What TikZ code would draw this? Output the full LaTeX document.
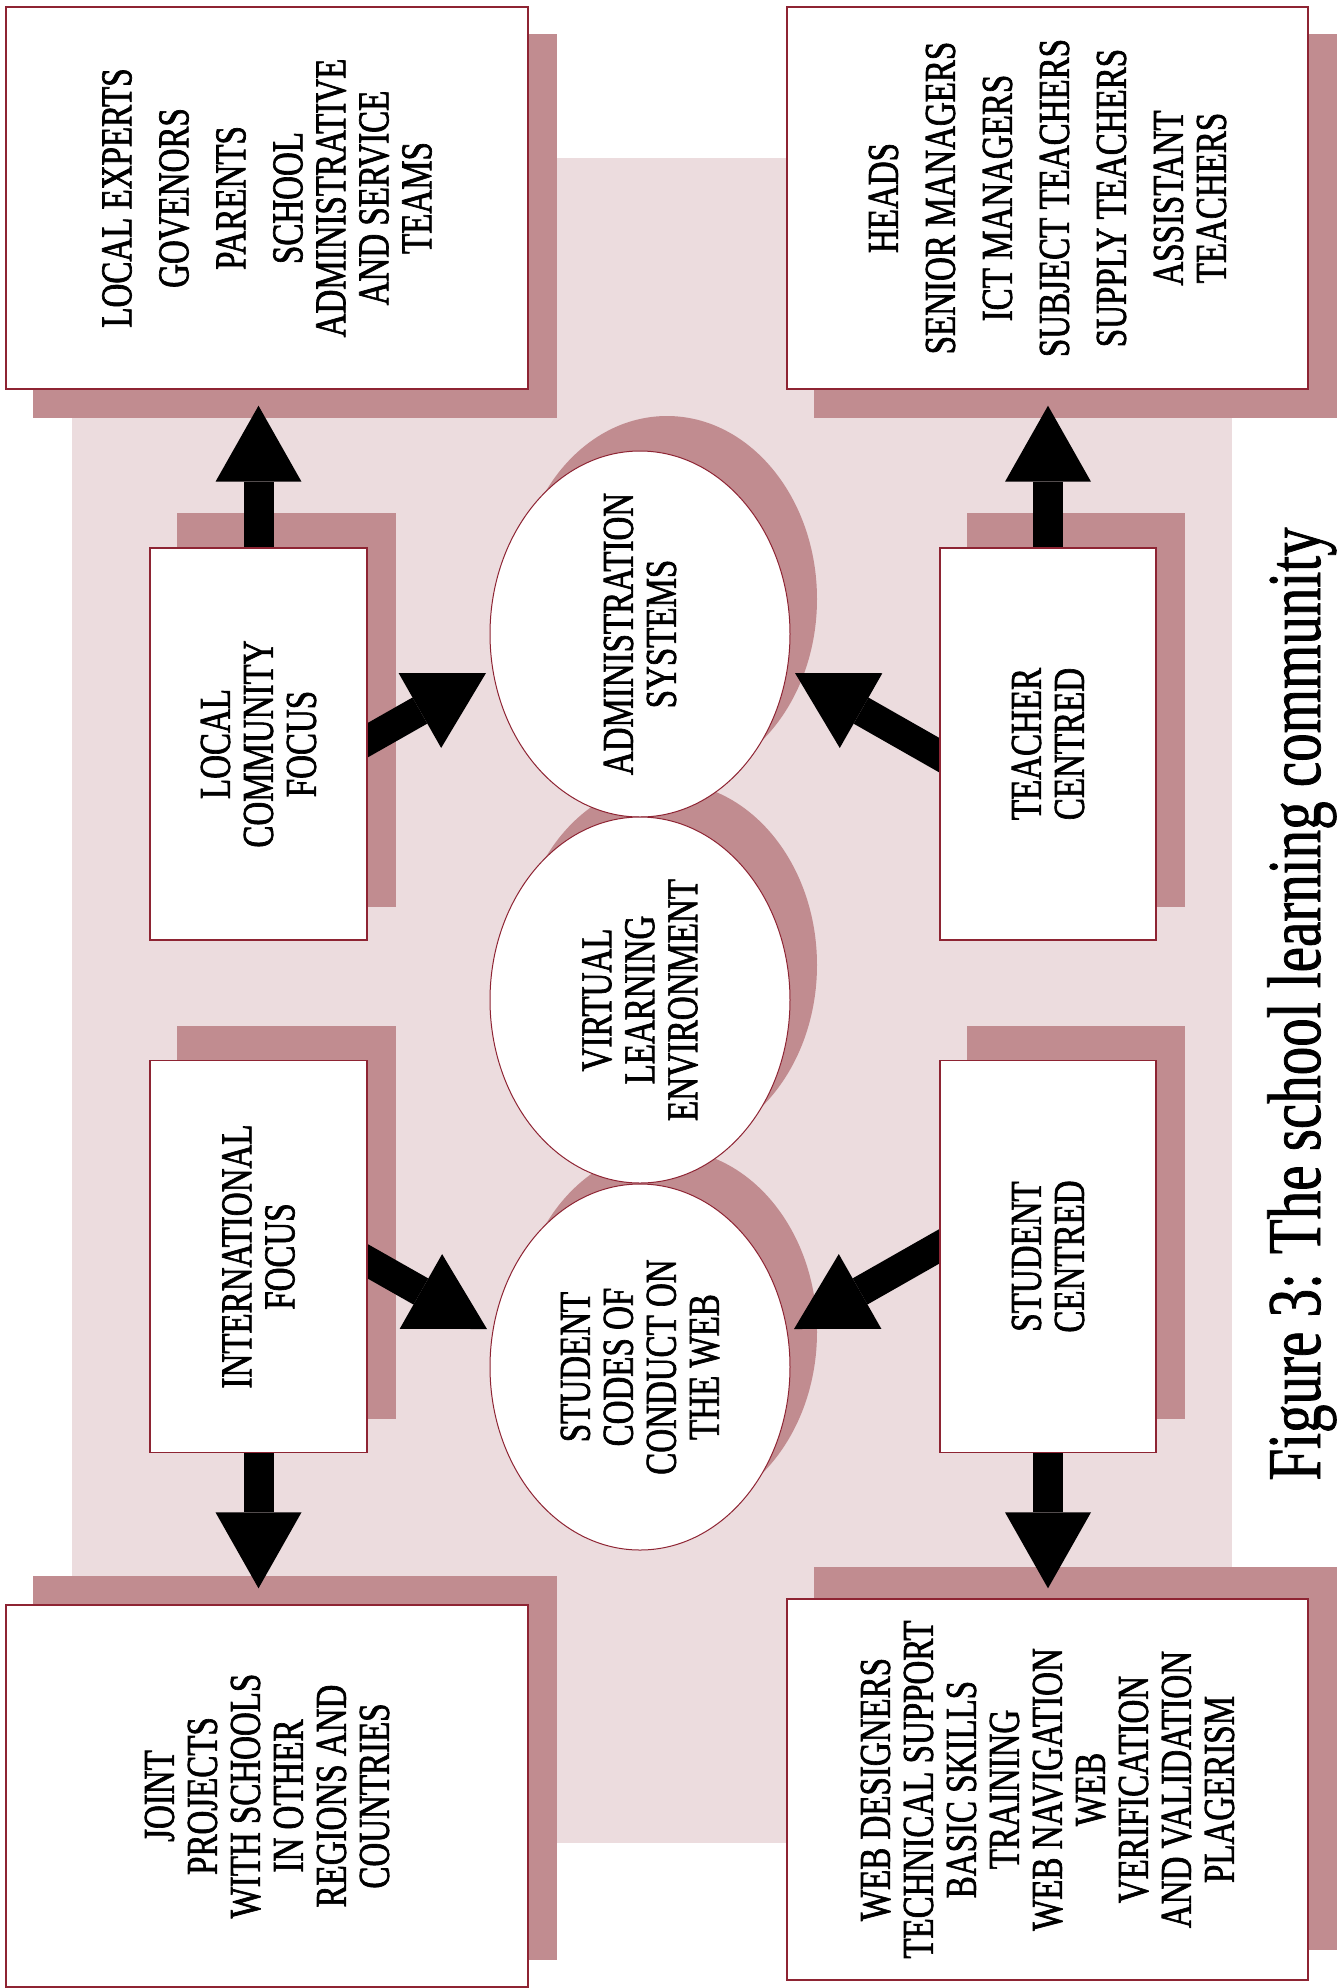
\documentclass[tikz,border=0pt]{standalone}
\usepackage{fontspec}
\newfontfamily\boxfont[FakeStretch=0.75,FakeBold=1.5]{Liberation Serif}
\newfontfamily\capfont[FakeStretch=0.75,FakeBold=1]{Liberation Serif}
\usetikzlibrary{arrows.meta,shapes.geometric,calc}
\definecolor{shadowc}{HTML}{C18C90}
\definecolor{bgc}{HTML}{ECDCDE}
\definecolor{edgec}{HTML}{8E2433}
\pgfdeclarelayer{bglayer}
\pgfdeclarelayer{shadowlayer}
\pgfdeclarelayer{arrowlayer}
\pgfsetlayers{bglayer,shadowlayer,arrowlayer,main}
\begin{document}
\begin{tikzpicture}[x=0.5pt,y=-0.5pt,
  boxshape/.style={draw=edgec, line width=0.7pt, fill=white, rectangle, inner sep=0pt},
  ellshape/.style={draw=edgec, line width=0.5pt, fill=white, ellipse, inner sep=0pt, minimum width=150pt, minimum height=183pt},
  txt/.style={rotate=90, align=center, inner sep=0pt, font=\boxfont\fontsize{22pt}{21.5pt}\selectfont},
  captxt/.style={rotate=90, anchor=base, inner sep=0pt, font=\capfont\fontsize{38pt}{40pt}\selectfont},
  bigarrow/.style={line width=15pt, -{Triangle[length=38pt,width=43pt,line width=0pt]}},
  ]
\begin{pgfonlayer}{bglayer}
\path[use as bounding box] (0,0) rectangle (1334,1988);
\fill[bgc] (72,158) rectangle (1232,1843);
\end{pgfonlayer}

% outer boxes
\node[boxshape, minimum width=261pt, minimum height=191pt] (tl) at (267,198) {};
\node[boxshape, minimum width=260.5pt, minimum height=191pt] (tr) at (1047.5,198) {};
\node[boxshape, minimum width=261pt, minimum height=191pt] (bl) at (267,1796) {};
\node[boxshape, minimum width=260.5pt, minimum height=190.5pt] (br) at (1047.5,1789.5) {};
% inner boxes
\node[boxshape, minimum width=108.5pt, minimum height=196pt] (lc) at (258.5,744) {};
\node[boxshape, minimum width=108.5pt, minimum height=196pt] (intl) at (258.5,1256.5) {};
\node[boxshape, minimum width=108pt, minimum height=196pt] (tc) at (1048,744) {};
\node[boxshape, minimum width=108pt, minimum height=196pt] (sc) at (1048,1256.5) {};
% ellipses
\node[ellshape] (adm) at (640,634) {};
\node[ellshape] (vle) at (640,1000) {};
\node[ellshape] (code) at (640,1367) {};

% shadows
\begin{pgfonlayer}{shadowlayer}
\foreach \n/\dx/\dy in {tl/28/28, tr/28/28, bl/28/-28, br/28/-31, lc/28/-34, intl/28/-34, tc/28/-34, sc/28/-34} {
  \fill[shadowc] ([shift={(\dx,\dy)}]\n.north west) rectangle ([shift={(\dx,\dy)}]\n.south east);
}
\foreach \n in {adm,vle,code} {
  \fill[shadowc] ([shift={(27,-35)}]\n.center) ellipse [x radius=75pt, y radius=91.5pt];
}
\end{pgfonlayer}

% texts
\node[txt] (tlT) at (tl) {LOCAL EXPERTS\\[7pt]GOVENORS\\[7pt]PARENTS\\[7pt]SCHOOL\\ADMINISTRATIVE\\AND SERVICE\\TEAMS};
\node[txt] (trT) at (tr) {HEADS\\[7pt]SENIOR MANAGERS\\[7pt]ICT MANAGERS\\[7pt]SUBJECT TEACHERS\\[7pt]SUPPLY TEACHERS\\[7pt]ASSISTANT\\TEACHERS};
\node[txt] (blT) at (bl) {JOINT\\PROJECTS\\WITH SCHOOLS\\IN OTHER\\REGIONS AND\\COUNTRIES};
\node[txt] (brT) at (br) {WEB DESIGNERS\\TECHNICAL SUPPORT\\BASIC SKILLS\\TRAINING\\WEB NAVIGATION\\WEB\\VERIFICATION\\AND VALIDATION\\PLAGERISM};
\node[txt] (lcT) at (lc) {LOCAL\\COMMUNITY\\FOCUS};
\node[txt] (intlT) at (intl) {INTERNATIONAL\\FOCUS};
\node[txt] (tcT) at (tc) {TEACHER\\CENTRED};
\node[txt] (scT) at (sc) {STUDENT\\CENTRED};
\node[txt] (admT) at (adm) {ADMINISTRATION\\SYSTEMS};
\node[txt] (vleT) at (vle) {VIRTUAL\\LEARNING\\ENVIRONMENT};
\node[txt] (codeT) at (code) {STUDENT\\CODES OF\\CONDUCT ON\\THE WEB};

\node[captxt] (cap) at (1320,1004) {Figure 3: The school learning community};

% arrows
\coordinate (tipTL) at ($(lc.north |- tl.south)+(0,16)$);
\coordinate (tipTR) at ($(tc.north |- tr.south)+(0,16)$);
\coordinate (tipBL) at ($(intl.south |- bl.north)+(0,-16)$);
\coordinate (tipBR) at ($(sc.south |- br.north)+(0,-10)$);
\coordinate (tipA) at ($(adm.center)+(-154,39)$);
\coordinate (tipB) at ($(adm.center)+(155,39)$);
\coordinate (tipC) at ($(code.center)+(-153,-38)$);
\coordinate (tipD) at ($(code.center)+(154,-38)$);
\coordinate (stA) at ($(lc.east)+(-12,3)$);
\coordinate (stB) at ($(tc.west)+(12,18)$);
\coordinate (stC) at ($(intl.east)+(-12,-2)$);
\coordinate (stD) at ($(sc.west)+(12,-17)$);
\begin{pgfonlayer}{arrowlayer}
\draw[bigarrow] (lc.north) -- (tipTL);
\draw[bigarrow] (tc.north) -- (tipTR);
\draw[bigarrow] (intl.south) -- (tipBL);
\draw[bigarrow] (sc.south) -- (tipBR);
\draw[bigarrow] (stA) -- (tipA);
\draw[bigarrow] (stB) -- (tipB);
\draw[bigarrow] (stC) -- (tipC);
\draw[bigarrow] (stD) -- (tipD);
\end{pgfonlayer}
\end{tikzpicture}
\end{document}
